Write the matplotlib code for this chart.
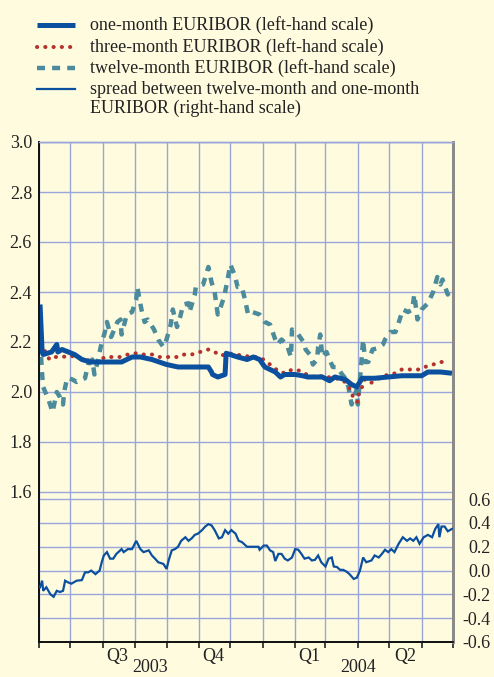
"""EURIBOR money market rates, June 2003 - June 2004."""

import numpy as np
import matplotlib
matplotlib.use('Agg')
import matplotlib.pyplot as plt
import matplotlib.dates as mdates
import matplotlib.transforms as mtransforms

# ---------------------------------------------------------------- data
# days counted from 1 June 2003
start_date = '2003-06-01'

one_month_days = [1, 3, 4, 12, 17, 18, 22, 34, 41, 49, 60, 79, 89, 97, 108,
                  122, 133, 143, 162, 165, 166, 171, 178, 179, 190, 199, 205,
                  211, 216, 226, 231, 235, 245, 252, 257, 271, 278, 283, 293,
                  299, 304, 309, 321, 334, 347, 366, 372, 384, 395]
one_month = [2.35, 2.16, 2.15, 2.16, 2.19, 2.16, 2.17, 2.15, 2.13, 2.12, 2.12,
             2.12, 2.14, 2.14, 2.13, 2.11, 2.10, 2.10, 2.10, 2.08, 2.07, 2.06,
             2.07, 2.155, 2.14, 2.13, 2.14, 2.13, 2.10, 2.08, 2.06, 2.07, 2.07,
             2.065, 2.06, 2.06, 2.045, 2.06, 2.05, 2.03, 2.02, 2.055, 2.055,
             2.06, 2.065, 2.065, 2.08, 2.08, 2.075]

three_month_days = [1, 3, 6, 10, 15, 22, 30, 36, 43, 56, 63, 78, 85, 93, 99,
                    108, 115, 126, 133, 139, 146, 154, 162, 168, 174, 181, 188,
                    196, 204, 211, 218, 224, 230, 236, 242, 250, 256, 262, 267,
                    271, 276, 283, 290, 295, 299, 301, 305, 306, 309, 311, 317,
                    323, 328, 334, 341, 347, 355, 363, 369, 377, 384, 391]
three_month = [2.26, 2.19, 2.16, 2.13, 2.14, 2.14, 2.145, 2.14, 2.13, 2.12,
               2.14, 2.14, 2.15, 2.155, 2.15, 2.15, 2.14, 2.14, 2.14, 2.15,
               2.15, 2.16, 2.17, 2.16, 2.145, 2.155, 2.15, 2.145, 2.14, 2.14,
               2.12, 2.10, 2.08, 2.075, 2.09, 2.085, 2.07, 2.06, 2.07, 2.06,
               2.06, 2.055, 2.05, 2.03, 2.00, 1.97, 1.96, 2.00, 2.02, 2.05,
               2.035, 2.05, 2.06, 2.07, 2.075, 2.09, 2.09, 2.09, 2.10, 2.11,
               2.12, 2.12]

twelve_month_days = [2, 3, 4, 9, 13, 17, 20, 23, 24, 27, 32, 36, 41, 44, 47,
                     51, 53, 56, 59, 63, 65, 69, 75, 78, 79, 84, 89, 93, 94, 98,
                     101, 104, 110, 114, 119, 122, 126, 128, 132, 135, 138, 143,
                     144, 149, 150, 157, 162, 165, 168, 171, 173, 177, 180, 183,
                     187, 190, 194, 197, 200, 204, 211, 216, 221, 226, 228, 232,
                     237, 241, 242, 248, 253, 255, 259, 262, 266, 267, 269, 271,
                     275, 278, 281, 285, 290, 293, 296, 299, 301, 304, 305, 308,
                     310, 312, 315, 319, 324, 329, 331, 336, 341, 345, 348, 353,
                     357, 359, 362, 366, 372, 377, 381, 384, 386, 391, 395]
twelve_month = [2.14, 2.07, 2.02, 1.97, 1.92, 2.00, 1.98, 1.95, 2.00, 2.056,
                2.05, 2.04, 2.05, 2.055, 2.11, 2.13, 2.07, 2.12, 2.18, 2.24,
                2.28, 2.22, 2.28, 2.29, 2.23, 2.31, 2.32, 2.37, 2.42, 2.33,
                2.28, 2.29, 2.25, 2.21, 2.18, 2.21, 2.27, 2.33, 2.26, 2.30,
                2.35, 2.355, 2.32, 2.39, 2.42, 2.43, 2.50, 2.44, 2.40, 2.31,
                2.33, 2.38, 2.44, 2.51, 2.47, 2.42, 2.42, 2.37, 2.31, 2.32,
                2.31, 2.28, 2.27, 2.21, 2.19, 2.21, 2.19, 2.14, 2.25, 2.23,
                2.20, 2.17, 2.15, 2.11, 2.13, 2.18, 2.23, 2.14, 2.16, 2.13,
                2.10, 2.10, 2.07, 2.055, 2.02, 1.95, 1.98, 2.01, 1.95, 2.10,
                2.21, 2.12, 2.12, 2.17, 2.175, 2.19, 2.21, 2.24, 2.24, 2.29,
                2.33, 2.32, 2.33, 2.39, 2.29, 2.33, 2.355, 2.40, 2.46, 2.43,
                2.45, 2.39, 2.42]

spread_days = [1, 3, 4, 7, 11, 14, 17, 20, 23, 25, 28, 31, 36, 41, 44, 47, 50,
               54, 58, 60, 62, 65, 68, 71, 74, 79, 81, 85, 89, 93, 97, 100, 105,
               108, 111, 114, 119, 122, 124, 127, 130, 133, 136, 140, 143, 146,
               149, 152, 156, 159, 162, 165, 168, 172, 175, 178, 181, 184, 188,
               191, 194, 199, 205, 210, 211, 215, 218, 221, 224, 226, 229, 232,
               235, 238, 242, 245, 248, 251, 254, 258, 261, 264, 267, 270, 274,
               277, 280, 282, 285, 288, 291, 294, 297, 301, 304, 307, 310, 313,
               318, 321, 325, 328, 331, 334, 337, 340, 344, 348, 352, 355, 358,
               361, 364, 368, 372, 376, 379, 382, 383, 385, 388, 391, 395]
spread = [-0.14, -0.085, -0.17, -0.14, -0.20, -0.22, -0.17, -0.18, -0.17,
          -0.085, -0.10, -0.11, -0.085, -0.08, -0.015, -0.015, 0.0, -0.03, 0.0,
          0.07, 0.127, 0.155, 0.10, 0.10, 0.14, 0.18, 0.155, 0.18, 0.18, 0.25,
          0.18, 0.155, 0.17, 0.127, 0.10, 0.07, 0.056, 0.014, 0.085, 0.17,
          0.18, 0.20, 0.25, 0.28, 0.25, 0.27, 0.30, 0.31, 0.34, 0.37, 0.39,
          0.38, 0.34, 0.27, 0.28, 0.34, 0.31, 0.34, 0.31, 0.25, 0.24, 0.20,
          0.20, 0.20, 0.175, 0.21, 0.21, 0.17, 0.155, 0.08, 0.14, 0.14, 0.10,
          0.085, 0.11, 0.18, 0.175, 0.14, 0.10, 0.11, 0.085, 0.09, 0.127, 0.07,
          0.034, 0.10, 0.11, 0.034, 0.03, 0.006, 0.006, -0.008, -0.03, -0.07,
          -0.06, 0.0, 0.11, 0.07, 0.085, 0.127, 0.11, 0.14, 0.175, 0.155, 0.18,
          0.155, 0.225, 0.28, 0.25, 0.27, 0.25, 0.28, 0.225, 0.28, 0.30, 0.28,
          0.35, 0.39, 0.28, 0.37, 0.37, 0.33, 0.35]

left_ticks = [1.6, 1.8, 2.0, 2.2, 2.4, 2.6, 2.8, 3.0]
right_ticks = [-0.6, -0.4, -0.2, 0.0, 0.2, 0.4, 0.6]
quarter_labels = ['Q3', 'Q4', 'Q1', 'Q2']
quarter_mid = ['2003-08-15', '2003-11-15', '2004-02-15', '2004-05-16']
year_labels = ['2003', '2004']
year_mid = ['2003-09-15', '2004-04-01']

legend_labels = [
    'one-month EURIBOR (left-hand scale)',
    'three-month EURIBOR (left-hand scale)',
    'twelve-month EURIBOR (left-hand scale)',
    'spread between twelve-month and one-month\nEURIBOR (right-hand scale)',
]


def to_dates(days):
    return np.datetime64(start_date) + np.array(days).astype('timedelta64[D]')


# ---------------------------------------------------------------- style
plt.rcParams['font.family'] = ['Liberation Serif', 'DejaVu Serif']
plt.rcParams['font.size'] = 13

BG = '#fffbdf'
GRID = '#9aa6da'
BLUE = '#0b509f'
RED = '#b3322d'
TEAL = '#4b8b9b'

styles = [
    dict(color=BLUE, lw=3.6, solid_capstyle='butt', solid_joinstyle='round'),
    dict(color=RED, lw=2.9, linestyle=(0, (0.05, 2.0)), dash_capstyle='round'),
    dict(color=TEAL, lw=3.2, linestyle=(0, (1.8, 1.6)), dash_capstyle='butt'),
    dict(color=BLUE, lw=1.6, solid_joinstyle='miter'),
]

fig = plt.figure(figsize=(4.94, 6.77), dpi=100, facecolor=BG)
ax = fig.add_axes([39 / 494, 1 - 642 / 677, 414 / 494, 500 / 677])
ax.set_facecolor(BG)
ax2 = ax.twinx()
ax2.patch.set_visible(False)

ax.plot(to_dates(twelve_month_days), twelve_month, zorder=3, **styles[2])
ax.plot(to_dates(three_month_days), three_month, zorder=4, **styles[1])
ax.plot(to_dates(one_month_days), one_month, zorder=5, **styles[0])
ax2.plot(to_dates(spread_days), spread, zorder=3, **styles[3])

ax.set_xlim(np.datetime64('2003-06-01'), np.datetime64('2004-07-01'))
ax.set_ylim(1.0, 3.0)
ax2.set_ylim(-0.6, 3.6)

ax.set_yticks(left_ticks)
ax.set_yticklabels([f'{v:.1f}' for v in left_ticks])
ax2.set_yticks(right_ticks)
ax2.set_yticklabels([f'{v:.1f}' for v in right_ticks])
ax.tick_params(axis='y', length=0, pad=5, colors='#222222')
ax2.tick_params(axis='y', length=0, pad=27, colors='#222222')
for lab in ax2.get_yticklabels():
    lab.set_horizontalalignment('right')

ax.xaxis.set_major_locator(mdates.MonthLocator())
ax.xaxis.set_major_formatter(plt.NullFormatter())
ax.tick_params(axis='x', direction='out', length=4, width=1.2, color='#222222')

ax.set_axisbelow(True)
ax.grid(True, color=GRID, lw=1.0)
ax2.grid(True, axis='y', color=GRID, lw=1.0)
ax2.xaxis.grid(False)

for a in (ax, ax2):
    a.spines['top'].set_color(GRID)
    a.spines['top'].set_linewidth(1.0)
    a.spines['left'].set_color('#111111')
    a.spines['left'].set_linewidth(1.3)
    a.spines['bottom'].set_color('#111111')
    a.spines['bottom'].set_linewidth(1.3)
    a.spines['right'].set_color('#8a8a8a')
    a.spines['right'].set_linewidth(2.0)

trans = mtransforms.blended_transform_factory(ax.transData, ax.transAxes)
for lab, mid in zip(quarter_labels, quarter_mid):
    ax.text(np.datetime64(mid), -0.011, lab, transform=trans,
            ha='center', va='top', color='#222222')
for lab, mid in zip(year_labels, year_mid):
    ax.text(np.datetime64(mid), -0.068, lab, transform=trans,
            ha='center', va='bottom', color='#222222')

# ---------------------------------------------------------------- legend
leg = fig.add_axes([0, 0, 1, 1], zorder=-1)
leg.set_xlim(0, 494)
leg.set_ylim(677, 0)
leg.axis('off')
leg_rows = [25, 47, 68, 89]
for row, lab, st in zip(leg_rows, legend_labels, styles):
    leg.plot([37, 75], [row, row], **st)
    leg.text(90, row, lab.split('\n')[0], va='center', ha='left',
             color='#222222')
    if '\n' in lab:
        leg.text(90, row + 19.5, lab.split('\n')[1], va='center', ha='left',
                 color='#222222')

fig.savefig('out.png', dpi=100, facecolor=BG)
